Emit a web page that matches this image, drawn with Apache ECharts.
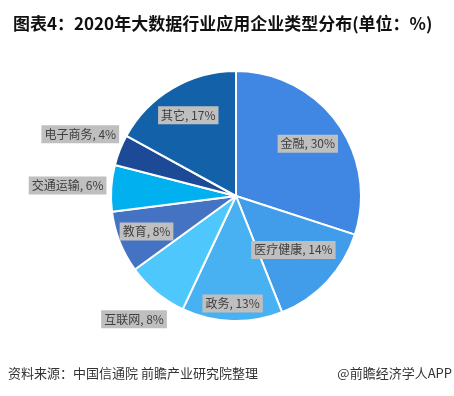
<!DOCTYPE html>
<html><head><meta charset="utf-8">
<script src="https://cdn.jsdelivr.net/npm/echarts@6/dist/echarts.min.js"></script>
<style>html,body{margin:0;padding:0;background:#fff}#c{width:454px;height:396px}</style>
</head><body><div id="c"></div>
<script>
const categories = ['金融','医疗健康','政务','互联网','教育','交通运输','电子商务','其它'];
const values = [30,14,13,8,8,6,4,17];
const colors = ['#3f87e2','#419ce9','#48b1f2','#4ec8fc','#4573c4','#00b0ef','#1c4a96','#1261a9'];
// label distance from centre, as a fraction of the radius (layout only)
const labelRadiusFrac = [0.71,0.63,0.86,1.28,0.77,1.35,1.34,0.75];

const CX = 236, CY = 196, R = 125;
const total = values.reduce((a,b)=>a+b,0);
const mids = [];
let acc = 0;
values.forEach(v=>{ mids.push((acc + v/2)/total*Math.PI*2); acc += v; });

const chart = echarts.init(document.getElementById('c'), null, {renderer:'canvas'});
chart.setOption({
  animation:false,
  backgroundColor:'#fff',
  title:{
    text:'图表4：2020年大数据行业应用企业类型分布(单位：%)',
    left:8, top:10,
    textStyle:{fontSize:17,fontWeight:'bold',color:'#111',fontFamily:'"Noto Sans CJK SC", sans-serif'}
  },
  graphic:[
    {type:'text',left:8,top:367,style:{text:'资料来源：中国信通院 前瞻产业研究院整理',fontSize:13,fill:'#333',fontFamily:'"Noto Sans CJK SC", sans-serif'}},
    {type:'text',right:2,top:367,style:{text:'@前瞻经济学人APP',fontSize:13,fill:'#333',fontFamily:'"Noto Sans CJK SC", sans-serif'}}
  ],
  series:[{
    type:'pie',
    center:[CX,CY],
    radius:[0,R],
    startAngle:90,
    clockwise:true,
    itemStyle:{borderColor:'#fff',borderWidth:2},
    label:{
      show:true,position:'inside',
      formatter:p=>p.name+', '+p.value+'%',
      color:'#404040',fontSize:12,
      fontFamily:'"Noto Sans CJK SC", sans-serif',
      backgroundColor:'#bfbfbf',padding:[3,3,3,3]
    },
    labelLine:{show:false},
    labelLayout:function(p){
      const i = p.dataIndex, a = mids[i], d = labelRadiusFrac[i]*R;
      return {x: CX + d*Math.sin(a), y: CY - d*Math.cos(a), align:'center', verticalAlign:'middle'};
    },
    emphasis:{disabled:true},
    data:categories.map((n,i)=>({name:n,value:values[i],itemStyle:{color:colors[i]}}))
  }]
});
</script></body></html>
